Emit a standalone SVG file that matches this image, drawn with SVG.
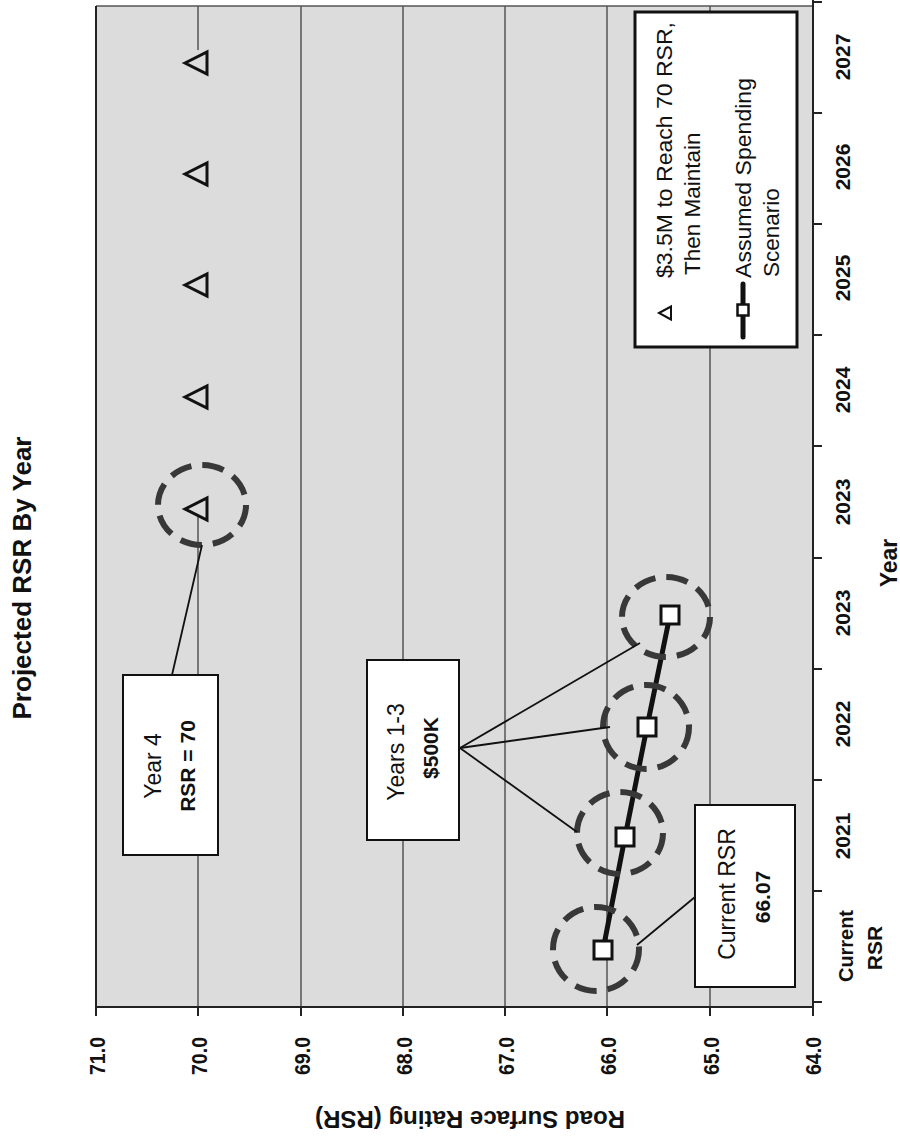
<svg xmlns="http://www.w3.org/2000/svg" width="900" height="1138" viewBox="0 0 900 1138">
<defs>
<style>
text{font-family:"Liberation Sans",Arial,sans-serif;fill:#111}
.grid{stroke:#555;stroke-width:1.5}
.axis{stroke:#222;stroke-width:2}
.val{font-size:22px;font-weight:bold;text-anchor:middle}
.cat{font-size:21px;font-weight:bold;text-anchor:middle}
.box{fill:#fff;stroke:#111;stroke-width:2}
.lead{stroke:#111;stroke-width:1.8;fill:none}
.ring{fill:none;stroke:#383838;stroke-width:6;stroke-dasharray:22 11}
.tri{fill:none;stroke:#111;stroke-width:3;stroke-linejoin:miter}
.sq{fill:#fff;stroke:#111;stroke-width:3}
.lg{font-size:22.5px}
.cr{font-size:23px;text-anchor:middle}
.cb{font-size:21px;font-weight:bold;text-anchor:middle}
</style>
</defs>
<rect width="900" height="1138" fill="#fff"/>
<g id="plot">
<rect x="96" y="6" width="717" height="1001" fill="#dcdcdc"/>
<line class="grid" x1="198" y1="6" x2="198" y2="50"/>
<line class="grid" x1="198" y1="515" x2="198" y2="1007"/>
<line class="grid" x1="301" y1="6" x2="301" y2="1007"/>
<line class="grid" x1="403" y1="6" x2="403" y2="1007"/>
<line class="grid" x1="505" y1="6" x2="505" y2="1007"/>
<line class="grid" x1="607" y1="6" x2="607" y2="1007"/>
<line class="grid" x1="710" y1="6" x2="710" y2="1007"/>
<line class="grid" x1="96" y1="6" x2="813" y2="6"/>
<line class="axis" x1="96" y1="6" x2="96" y2="1007"/>
<line class="axis" x1="96" y1="1007" x2="813" y2="1007"/>
<line class="axis" x1="813" y1="0" x2="813" y2="1007"/>
<path class="axis" stroke-width="1.5" d="M96 1007v9M198 1007v9M301 1007v9M403 1007v9M505 1007v9M607 1007v9M710 1007v9M813 1007v9"/>
<path class="axis" stroke-width="1.5" d="M813 2h9M813 113h9M813 224h9M813 335h9M813 446h9M813 558h9M813 669h9M813 780h9M813 891h9M813 1002h9"/>
</g>
<g id="axis-labels">
<text class="val" textLength="38" lengthAdjust="spacingAndGlyphs" transform="translate(105,1056) rotate(-90)">71.0</text>
<text class="val" textLength="38" lengthAdjust="spacingAndGlyphs" transform="translate(207,1056) rotate(-90)">70.0</text>
<text class="val" textLength="38" lengthAdjust="spacingAndGlyphs" transform="translate(310,1056) rotate(-90)">69.0</text>
<text class="val" textLength="38" lengthAdjust="spacingAndGlyphs" transform="translate(412,1056) rotate(-90)">68.0</text>
<text class="val" textLength="38" lengthAdjust="spacingAndGlyphs" transform="translate(514,1056) rotate(-90)">67.0</text>
<text class="val" textLength="38" lengthAdjust="spacingAndGlyphs" transform="translate(616,1056) rotate(-90)">66.0</text>
<text class="val" textLength="38" lengthAdjust="spacingAndGlyphs" transform="translate(719,1056) rotate(-90)">65.0</text>
<text class="val" textLength="38" lengthAdjust="spacingAndGlyphs" transform="translate(821,1056) rotate(-90)">64.0</text>
<text class="cat" transform="translate(850,57) rotate(-90)">2027</text>
<text class="cat" transform="translate(850,167) rotate(-90)">2026</text>
<text class="cat" transform="translate(850,278) rotate(-90)">2025</text>
<text class="cat" transform="translate(850,390) rotate(-90)">2024</text>
<text class="cat" transform="translate(850,502) rotate(-90)">2023</text>
<text class="cat" transform="translate(850,613) rotate(-90)">2023</text>
<text class="cat" transform="translate(850,724) rotate(-90)">2022</text>
<text class="cat" transform="translate(850,836) rotate(-90)">2021</text>
<text class="cat" font-size="20" textLength="72" lengthAdjust="spacingAndGlyphs" transform="translate(853,946) rotate(-90)">Current</text>
<text class="cat" font-size="20" transform="translate(882,948) rotate(-90)">RSR</text>
<text font-size="23" font-weight="bold" text-anchor="middle" transform="translate(897,563) rotate(-90)">Year</text>
<text font-size="23" font-weight="bold" text-anchor="middle" textLength="310" lengthAdjust="spacingAndGlyphs" transform="translate(470,1111) rotate(180)">Road Surface Rating (RSR)</text>
<text font-family="'Open Sans','Liberation Sans',sans-serif" font-size="25" font-weight="600" text-anchor="middle" textLength="283" lengthAdjust="spacingAndGlyphs" transform="translate(31,578) rotate(-90)">Projected RSR By Year</text>
</g>
<g id="series-target">
<path class="tri" d="M185 63L207 52V74Z"/>
<path class="tri" d="M185 174L207 163V185Z"/>
<path class="tri" d="M185 285L207 274V296Z"/>
<path class="tri" d="M185 397L207 386V408Z"/>
<path class="tri" d="M185 509L207 498V520Z"/>
</g>
<g id="series-assumed">
<polyline points="603,950 625,837 647,727 670,615" fill="none" stroke="#111" stroke-width="5"/>
<rect class="sq" x="594" y="941" width="18" height="18"/>
<rect class="sq" x="616" y="828" width="18" height="18"/>
<rect class="sq" x="638" y="718" width="18" height="18"/>
<rect class="sq" x="661" y="606" width="18" height="18"/>
</g>
<g id="highlight-rings">
<ellipse class="ring" cx="202" cy="505" rx="44" ry="40"/>
<ellipse class="ring" cx="596" cy="949" rx="43" ry="42"/>
<ellipse class="ring" cx="620" cy="833" rx="43" ry="41"/>
<ellipse class="ring" cx="646" cy="727" rx="43" ry="42"/>
<ellipse class="ring" cx="666" cy="617" rx="44" ry="40"/>
</g>
<g id="connectors">
<line class="lead" x1="172" y1="675" x2="202" y2="545"/>
<line class="lead" x1="460" y1="748" x2="640" y2="643"/>
<line class="lead" x1="460" y1="748" x2="610" y2="727"/>
<line class="lead" x1="460" y1="748" x2="577" y2="832"/>
<line class="lead" x1="695" y1="897" x2="637" y2="945"/>
</g>
<g id="callout-year4">
<rect class="box" x="123" y="675" width="95" height="180"/>
<text class="cr" transform="translate(161,766) rotate(-90)">Year 4</text>
<text class="cb" transform="translate(195,766) rotate(-90)">RSR = 70</text>
</g>
<g id="callout-years13">
<rect class="box" x="367" y="660" width="92" height="180"/>
<text class="cr" font-size="24" transform="translate(404,752) rotate(-90)">Years 1-3</text>
<text class="cb" transform="translate(438,748) rotate(-90)">$500K</text>
</g>
<g id="callout-current">
<rect class="box" x="695" y="805" width="100" height="182"/>
<text class="cr" font-size="24" transform="translate(735,894) rotate(-90)">Current RSR</text>
<text class="cb" font-size="22" transform="translate(770,897) rotate(-90)">66.07</text>
</g>
<g id="legend">
<rect x="635" y="12" width="162" height="335" fill="#fff" stroke="#111" stroke-width="3"/>
<path d="M659 313L671 306.5V319.5Z" fill="#fff" stroke="#111" stroke-width="2"/>
<text class="lg" textLength="256" lengthAdjust="spacingAndGlyphs" transform="translate(672,278) rotate(-90)">$3.5M to Reach 70 RSR,</text>
<text class="lg" transform="translate(700,275) rotate(-90)">Then Maintain</text>
<line x1="743" y1="284" x2="743" y2="337" stroke="#111" stroke-width="5" stroke-linecap="round"/>
<rect x="737.5" y="304.5" width="11" height="11" fill="#fff" stroke="#111" stroke-width="2.5"/>
<text class="lg" textLength="200" lengthAdjust="spacingAndGlyphs" transform="translate(751,278) rotate(-90)">Assumed Spending</text>
<text class="lg" transform="translate(779,277) rotate(-90)">Scenario</text>
</g>
</svg>
